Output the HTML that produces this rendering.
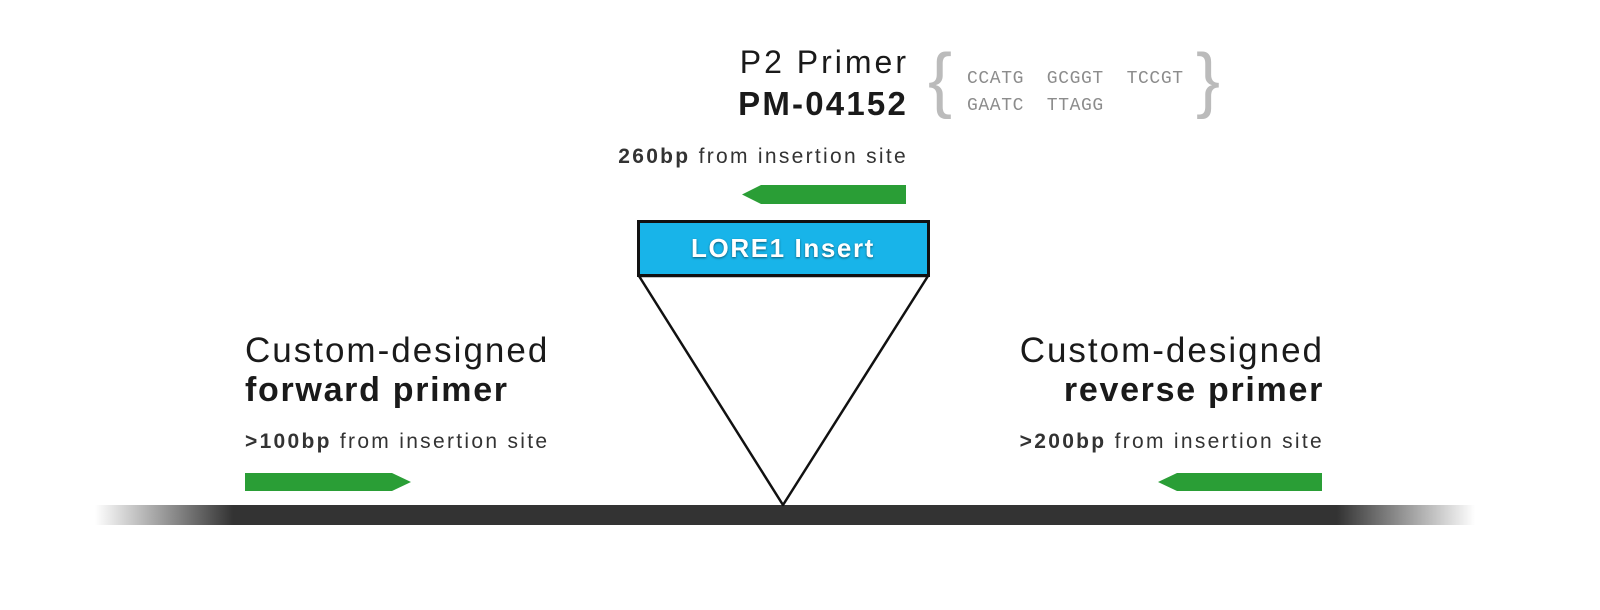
<!DOCTYPE html>
<html><head><style>
body{margin:0;width:1600px;height:610px;background:#fff;position:relative;overflow:hidden;font-family:"Liberation Sans",sans-serif;color:#1a1a1a}
.t{position:absolute;white-space:nowrap;line-height:1}
.r{text-align:right}
</style></head><body>
<svg width="1600" height="610" style="position:absolute;left:0;top:0">
<defs>
<linearGradient id="g" x1="0" x2="1">
<stop offset="0" stop-color="#333" stop-opacity="0"/>
<stop offset="0.1" stop-color="#333" stop-opacity="1"/>
<stop offset="0.9" stop-color="#333" stop-opacity="1"/>
<stop offset="1" stop-color="#333" stop-opacity="0"/>
</linearGradient>
</defs>
<rect x="95" y="505" width="1380" height="20" fill="url(#g)"/>
<polygon points="639,276 783,505 928,276" fill="#fff" stroke="#111" stroke-width="2.5" stroke-linejoin="round"/>
<rect x="638.5" y="221.5" width="290" height="54" fill="#18b4e9" stroke="#111" stroke-width="3"/>
<polygon points="742,194.5 761,185 906,185 906,204 761,204" fill="#2a9e36"/>
<polygon points="245,473 392,473 411,482 392,491 245,491" fill="#2a9e36"/>
<polygon points="1158,482 1177,473 1322,473 1322,491 1177,491" fill="#2a9e36"/>
</svg>
<div class="t" style="left:637px;width:292px;top:235px;text-align:center;color:#fff;font-weight:bold;font-size:26px;letter-spacing:1.6px;text-shadow:0 1px 2px rgba(0,0,0,.5)">LORE1 Insert</div>
<div class="t r" style="right:691px;top:46px;font-size:32px;letter-spacing:3px">P2 Primer</div>
<div class="t r" style="right:692px;top:87px;font-size:33px;font-weight:bold;letter-spacing:2.2px">PM-04152</div>
<div class="t" style="left:928px;top:44px;font-size:72px;color:#bbb;font-weight:300">{</div>
<div class="t" style="left:1196px;top:44px;font-size:72px;color:#bbb">}</div>
<div class="t" style="left:967px;top:66px;font-family:'Liberation Mono',monospace;font-size:18px;letter-spacing:0.6px;color:#8c8c8c;line-height:27px">CCATG&nbsp;&nbsp;GCGGT&nbsp;&nbsp;TCCGT<br>GAATC&nbsp;&nbsp;TTAGG</div>
<div class="t r" style="right:692px;top:146px;font-size:21px;letter-spacing:2.3px;color:#333"><b>260bp</b> from insertion site</div>
<div class="t" style="left:245px;top:333px;font-size:35px;letter-spacing:2px">Custom-designed</div>
<div class="t" style="left:245px;top:373px;font-size:34px;font-weight:bold;letter-spacing:1.7px">forward primer</div>
<div class="t" style="left:245px;top:431px;font-size:21px;letter-spacing:2.3px;color:#333"><b>&gt;100bp</b> from insertion site</div>
<div class="t r" style="right:276px;top:333px;font-size:35px;letter-spacing:2px">Custom-designed</div>
<div class="t r" style="right:276px;top:373px;font-size:34px;font-weight:bold;letter-spacing:1.7px">reverse primer</div>
<div class="t r" style="right:276px;top:431px;font-size:21px;letter-spacing:2.3px;color:#333"><b>&gt;200bp</b> from insertion site</div>
</body></html>
